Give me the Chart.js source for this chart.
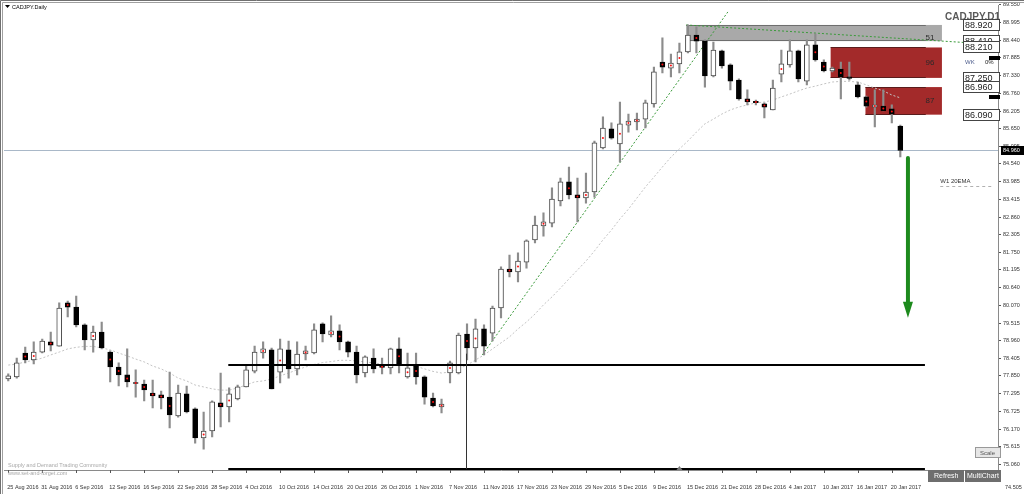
<!DOCTYPE html>
<html>
<head>
<meta charset="utf-8">
<script src="https://cdn.jsdelivr.net/npm/chart.js@4.4.0/dist/chart.umd.min.js"></script>
<style>
  html, body { margin: 0; padding: 0; background: #fff; }
  canvas { display: block; }
</style>
</head>
<body>
<canvas id="chart" width="1024" height="494"></canvas>
<script>
// CADJPY daily candles, 25 Aug 2016 .. 23 Jan 2017
const dates = [
  "25 Aug 2016","26 Aug 2016","29 Aug 2016","30 Aug 2016","31 Aug 2016",
  "1 Sep 2016","2 Sep 2016","5 Sep 2016","6 Sep 2016","7 Sep 2016","8 Sep 2016","9 Sep 2016","12 Sep 2016","13 Sep 2016","14 Sep 2016","15 Sep 2016","16 Sep 2016","19 Sep 2016","20 Sep 2016","21 Sep 2016","22 Sep 2016","23 Sep 2016","26 Sep 2016","27 Sep 2016","28 Sep 2016","29 Sep 2016","30 Sep 2016",
  "3 Oct 2016","4 Oct 2016","5 Oct 2016","6 Oct 2016","7 Oct 2016","10 Oct 2016","11 Oct 2016","12 Oct 2016","13 Oct 2016","14 Oct 2016","17 Oct 2016","18 Oct 2016","19 Oct 2016","20 Oct 2016","21 Oct 2016","24 Oct 2016","25 Oct 2016","26 Oct 2016","27 Oct 2016","28 Oct 2016","31 Oct 2016",
  "1 Nov 2016","2 Nov 2016","3 Nov 2016","4 Nov 2016","7 Nov 2016","8 Nov 2016","9 Nov 2016","10 Nov 2016","11 Nov 2016","14 Nov 2016","15 Nov 2016","16 Nov 2016","17 Nov 2016","18 Nov 2016","21 Nov 2016","22 Nov 2016","23 Nov 2016","24 Nov 2016","25 Nov 2016","28 Nov 2016","29 Nov 2016","30 Nov 2016",
  "1 Dec 2016","2 Dec 2016","5 Dec 2016","6 Dec 2016","7 Dec 2016","8 Dec 2016","9 Dec 2016","12 Dec 2016","13 Dec 2016","14 Dec 2016","15 Dec 2016","16 Dec 2016","19 Dec 2016","20 Dec 2016","21 Dec 2016","22 Dec 2016","23 Dec 2016","27 Dec 2016","28 Dec 2016","29 Dec 2016","30 Dec 2016",
  "3 Jan 2017","4 Jan 2017","5 Jan 2017","6 Jan 2017","9 Jan 2017","10 Jan 2017","11 Jan 2017","12 Jan 2017","13 Jan 2017","16 Jan 2017","17 Jan 2017","18 Jan 2017","19 Jan 2017","20 Jan 2017","23 Jan 2017"
];

const opens = [
  77.75,77.82,78.57,78.35,78.60,78.92,78.79,80.15,80.02,79.46,
  78.98,79.23,78.60,78.13,77.88,77.64,77.59,77.31,77.25,77.18,
  76.59,77.28,76.81,75.89,76.11,77.00,76.87,77.12,77.50,78.00,
  78.57,78.67,77.97,78.67,78.07,78.54,78.57,79.49,79.14,79.27,
  78.92,78.60,77.94,78.41,78.15,78.10,78.70,77.82,78.19,77.82,
  77.15,76.87,77.94,77.94,79.17,78.73,79.33,79.20,79.99,81.22,
  81.13,81.44,82.14,82.58,82.67,83.37,83.97,83.56,83.46,83.65,
  85.04,85.64,85.17,85.76,85.86,85.95,86.43,87.75,87.56,87.69,
  88.07,88.60,88.41,87.31,88.10,87.66,87.18,86.59,86.51,86.43,
  86.24,87.37,87.66,88.10,87.15,88.29,87.75,87.47,87.53,87.28,
  87.03,86.65,86.33,86.36,86.27,85.73
];
const highs = [
  77.91,78.41,78.76,78.92,79.01,79.23,80.15,80.21,80.37,79.49,
  79.42,79.55,78.64,78.26,78.70,78.04,77.72,77.72,77.37,77.97,
  77.56,77.53,76.84,76.71,77.06,77.94,77.47,77.56,78.19,78.79,
  78.92,78.73,79.01,78.95,78.92,78.79,79.49,79.52,79.74,79.46,
  78.95,78.79,78.48,78.70,78.41,78.73,79.05,78.57,78.57,77.85,
  77.31,77.12,78.32,79.20,79.49,79.64,79.46,80.05,81.29,81.66,
  81.73,82.14,82.89,82.99,83.78,84.09,84.44,84.09,84.25,85.26,
  86.02,85.83,86.49,86.11,86.14,86.55,87.59,88.51,88.00,88.35,
  88.92,88.86,88.45,88.38,88.13,87.69,87.22,86.87,86.55,86.46,
  87.18,88.13,88.45,88.13,88.45,88.64,87.82,87.59,87.75,87.75,
  87.12,86.68,86.87,86.87,86.40,85.76
];
const lows = [
  77.69,77.78,78.26,78.23,78.57,78.64,78.79,79.71,79.39,78.67,
  78.60,78.70,77.66,77.53,77.50,77.18,77.06,76.84,76.81,76.21,
  76.55,76.68,75.73,75.54,75.92,76.24,76.40,77.09,77.50,77.94,
  78.41,77.44,77.63,77.78,77.88,78.35,78.54,78.92,79.08,78.67,
  78.45,77.63,77.82,77.94,77.91,77.91,77.94,77.78,77.59,76.96,
  76.87,76.68,77.63,77.91,78.35,78.29,78.51,78.95,79.68,80.97,
  80.81,81.25,82.04,82.26,82.55,83.21,83.43,82.71,83.30,83.49,
  85.01,85.32,84.60,85.54,85.61,85.67,86.33,87.41,87.28,87.41,
  88.04,88.04,86.96,87.28,87.56,86.87,86.55,86.40,86.40,85.99,
  86.24,87.12,87.59,87.12,87.03,87.78,87.44,87.44,86.59,87.18,
  86.62,86.33,85.70,86.21,85.83,84.76
];
const closes = [
  77.85,78.26,78.35,78.60,78.95,78.82,79.99,80.02,79.46,78.98,
  79.23,78.73,78.13,77.88,77.66,77.61,77.41,77.22,77.15,76.62,
  77.31,76.71,75.89,76.11,77.03,76.87,77.28,77.50,78.04,78.60,
  78.70,77.44,78.70,78.07,78.54,78.64,79.30,79.17,79.27,78.92,
  78.60,77.88,78.45,78.07,78.12,78.70,78.23,78.10,77.82,77.18,
  76.90,76.96,78.26,79.14,78.73,79.33,78.79,79.99,81.22,81.13,
  81.47,82.11,82.61,82.71,83.43,83.97,83.56,83.46,83.65,85.20,
  85.67,85.35,85.80,85.89,85.95,86.46,87.44,87.59,87.72,88.07,
  88.60,88.41,87.31,88.13,87.63,87.15,86.59,86.49,86.47,86.33,
  86.93,87.69,88.10,87.22,88.29,87.82,87.47,87.56,87.28,87.23,
  86.65,86.36,86.40,86.21,86.11,84.96
];
// daily moving average (grey dotted curve)
const movingAvg = [
  78.19,78.22,78.29,78.34,78.41,78.51,78.60,78.70,78.75,78.78,
  78.78,78.73,78.67,78.57,78.48,78.38,78.29,78.16,78.07,77.94,
  77.78,77.69,77.56,77.50,77.44,77.40,77.40,77.47,77.56,77.66,
  77.69,77.75,77.85,77.94,78.04,78.13,78.21,78.27,78.30,78.34,
  78.34,78.32,78.29,78.26,78.22,78.19,78.19,78.19,78.15,78.07,
  77.99,77.94,77.97,78.07,78.19,78.35,78.51,78.70,78.89,79.08,
  79.33,79.55,79.80,80.09,80.34,80.62,80.91,81.19,81.47,81.79,
  82.14,82.45,82.80,83.11,83.46,83.81,84.12,84.44,84.75,85.01,
  85.26,85.54,85.80,85.95,86.11,86.24,86.33,86.40,86.46,86.49,
  86.55,86.65,86.74,86.84,86.93,86.99,87.06,87.12,87.14,87.14,
  87.12,87.03,86.93,86.84,86.71,86.62
];
// candles carrying the small red marker
const markedBars = [2,3,5,7,10,12,13,14,15,16,17,18,19,23,25,26,30,32,35,38,39,44,46,47,48,50,51,52,54,55,59,60,63,66,67,68,70,72,73,74,77,78,79,81,87,88,89,91,95,96,98,101,102,103,104];

const priceTicks = [89.550,88.995,88.440,87.885,87.330,86.760,86.205,85.650,85.095,84.540,83.985,83.415,82.860,82.305,81.750,81.195,80.640,80.070,79.515,78.960,78.405,77.850,77.295,76.725,76.170,75.615,75.060,74.505];

// supply zones: top, bottom, first bar, last bar, score
const zoneTop = [88.920, 88.210, 86.960];
const zoneBottom = [88.410, 87.250, 86.090];
const zoneFrom = [79.8, 96.8, 100.9];
const zoneTo = [109.9, 109.9, 109.9];
const zoneScore = ["51", "96", "87"];
const zoneLabels = [88.920, 88.410, 88.210, 87.250, 86.960, 86.090];

// horizontal support lines (price, from bar, to bar)
const supportLevels = [78.19, 74.91];
const supportFrom = 25.9, supportTo = 107.9;
const trendA = [[55.8, 78.51], [84.7, 89.33]];
const trendB = [[79.8, 88.92], [116.5, 88.30]];
const weeklyEma = 83.84;
const arrowFromTo = [105.9, 84.72, 79.68];
const bidPrice = closes[closes.length - 1];
const futureSlots = 11;

const slotLabels = dates.concat(Array(futureSlots).fill(""));
const FONT = "'Liberation Sans', Arial, sans-serif";

const bull = opens.map((o, i) => closes[i] >= o);
const markerData = opens.map((o, i) => markedBars.includes(i) ? (o + closes[i]) / 2 : null);

const overlay = {
  id: "overlay",
  beforeDraw(chart) {
    const c = chart.ctx;
    c.save();
    c.fillStyle = "#fff";
    c.fillRect(0, 0, chart.width, chart.height);
    c.restore();
  },
  beforeDatasetsDraw(chart) {
    const { ctx: c, chartArea: a, scales: { x, y } } = chart;
    c.save();
    c.beginPath();
    c.rect(a.left, a.top - 3, a.right - a.left, a.bottom - a.top + 3);
    c.clip();
    // bid line
    c.strokeStyle = "#a9b8c8";
    c.lineWidth = 1;
    const by = Math.round(y.getPixelForValue(bidPrice)) + 0.5;
    c.beginPath(); c.moveTo(a.left, by); c.lineTo(a.right, by); c.stroke();
    // zones
    zoneTop.forEach((t, k) => {
      const x0 = x.getPixelForValue(zoneFrom[k]);
      const x1 = x.getPixelForValue(zoneTo[k]);
      const y0 = y.getPixelForValue(t);
      const y1 = y.getPixelForValue(zoneBottom[k]);
      c.fillStyle = k === 0 ? "#a9a9a9" : "#a32a2a";
      c.fillRect(x0, y0, x1 - x0, y1 - y0);
      c.strokeStyle = k === 0 ? "#6e6e6e" : "#5a1c1c";
      const xe = x.getPixelForValue(108);
      c.beginPath();
      c.moveTo(x0, Math.round(y0) + 0.5); c.lineTo(xe, Math.round(y0) + 0.5);
      c.moveTo(x0, Math.round(y1) - 0.5); c.lineTo(xe, Math.round(y1) - 0.5);
      c.stroke();
    });
    // trend lines
    c.strokeStyle = "#3a9a3a";
    c.setLineDash([2, 2]);
    [trendA, trendB].forEach(t => {
      c.beginPath();
      c.moveTo(x.getPixelForValue(t[0][0]), y.getPixelForValue(t[0][1]));
      c.lineTo(x.getPixelForValue(t[1][0]), y.getPixelForValue(t[1][1]));
      c.stroke();
    });
    // weekly ema stub
    c.strokeStyle = "#b0b0b0";
    c.setLineDash([3, 3]);
    const wy = Math.round(y.getPixelForValue(weeklyEma)) + 0.5;
    c.beginPath(); c.moveTo(x.getPixelForValue(109.7), wy); c.lineTo(a.right - 4, wy); c.stroke();
    c.restore();
  },
  afterDatasetsDraw(chart) {
    const { ctx: c, chartArea: a, scales: { x, y } } = chart;
    c.save();
    // support lines
    c.strokeStyle = "#000";
    c.lineWidth = 2;
    supportLevels.forEach(p => {
      const py = Math.round(y.getPixelForValue(p));
      c.beginPath();
      c.moveTo(x.getPixelForValue(supportFrom), py);
      c.lineTo(x.getPixelForValue(supportTo), py);
      c.stroke();
    });
    // vertical marker line
    c.lineWidth = 1;
    c.strokeStyle = "#333";
    const vx = Math.round(x.getPixelForValue(54)) - 0.5;
    c.beginPath();
    c.moveTo(vx, y.getPixelForValue(78.55));
    c.lineTo(vx, y.getPixelForValue(supportLevels[1]));
    c.stroke();
    // arrow
    const ax = x.getPixelForValue(arrowFromTo[0]);
    const ay0 = y.getPixelForValue(arrowFromTo[1]);
    const ay1 = y.getPixelForValue(arrowFromTo[2]);
    c.strokeStyle = "#1d8a1d";
    c.fillStyle = "#1d8a1d";
    c.lineWidth = 4;
    c.lineCap = "round";
    c.beginPath(); c.moveTo(ax, ay0); c.lineTo(ax, ay1 - 14); c.stroke();
    c.beginPath();
    c.moveTo(ax - 5, ay1 - 16); c.lineTo(ax + 5, ay1 - 16); c.lineTo(ax, ay1); c.closePath(); c.fill();
    // zone scores
    c.fillStyle = "#2a2a2a";
    c.font = "8px " + FONT;
    c.textAlign = "center";
    c.textBaseline = "middle";
    zoneTop.forEach((t, k) => {
      c.fillText(zoneScore[k], x.getPixelForValue(108.5), y.getPixelForValue(k === 0 ? zoneBottom[k] + 0.09 : (t + zoneBottom[k]) / 2));
    });
    c.font = "6px " + FONT;
    c.textAlign = "left";
    c.fillStyle = "#333";
    c.fillText("W1 20EMA", x.getPixelForValue(109.7), y.getPixelForValue(weeklyEma) - 5);
    c.restore();
  },
  afterDraw(chart) {
    const { ctx: c, chartArea: a, scales: { x, y } } = chart;
    c.save();
    // date tick marks
    c.strokeStyle = "#555";
    c.lineWidth = 1;
    dates.forEach((d, i) => {
      if (i % 4) return;
      const tx = Math.round(x.getPixelForValue(i)) + 0.5;
      c.beginPath(); c.moveTo(tx, a.bottom); c.lineTo(tx, a.bottom + 3); c.stroke();
    });
    // frame
    c.strokeStyle = "#707070";
    c.beginPath(); c.moveTo(0.5, chart.height); c.lineTo(0.5, 0.5); c.lineTo(chart.width, 0.5); c.stroke();
    c.strokeStyle = "#a0a0a0";
    c.beginPath(); c.moveTo(2.5, chart.height); c.lineTo(2.5, 2.5); c.lineTo(chart.width, 2.5); c.stroke();
    // title
    c.fillStyle = "#000";
    c.beginPath(); c.moveTo(5, 5); c.lineTo(10, 5); c.lineTo(7.5, 8); c.closePath(); c.fill();
    c.font = "5.5px " + FONT;
    c.textBaseline = "middle";
    c.fillText("CADJPY.Daily", 12, 7);
    c.font = "bold 10px " + FONT;
    c.textAlign = "right";
    c.fillStyle = "#5a5a5a";
    c.fillText("CADJPY.D1", 1000, 17);
    // lowest price label below the plot
    c.font = "5.5px " + FONT;
    c.textAlign = "left";
    c.fillStyle = "#333";
    c.fillText("74.505", 1005, 487);
    // small coloured markers beside the zone labels
    [[88.95, "#c0392b"], [88.30, "#2a6fc9"], [88.05, "#000"], [87.20, "#a32a2a"], [86.80, "#000"]].forEach(m => {
      c.fillStyle = m[1];
      c.fillRect(989, Math.round(y.getPixelForValue(m[0])) + 3, 11, 4);
    });
    // right side price boxes
    c.font = "9px " + FONT;
    zoneLabels.forEach(p => {
      const py = Math.round(y.getPixelForValue(p));
      c.fillStyle = "#fff";
      c.fillRect(963.5, py - 5.5, 36, 11);
      c.strokeStyle = "#444";
      c.strokeRect(963.5, py - 5.5, 36, 11);
      c.fillStyle = "#222";
      c.fillText(p.toFixed(3), 965, py + 0.5);
    });
    c.font = "6px " + FONT;
    c.fillStyle = "#4a5a8a";
    c.fillText("WK", 965, 62);
    c.fillStyle = "#222";
    c.fillText("0%", 985, 62);
    // bid label
    const by = Math.round(y.getPixelForValue(bidPrice));
    c.fillStyle = "#000";
    c.fillRect(1001, by - 4, 24, 9);
    c.fillStyle = "#fff";
    c.font = "5.5px " + FONT;
    c.fillText(bidPrice.toFixed(3), 1003, by + 0.5);
    // watermark
    c.fillStyle = "#a8a8a8";
    c.fillText("Supply and Demand Trading Community", 8, 465);
    c.fillText("www.set-and-forget.com", 8, 473);
    // buttons
    c.fillStyle = "#e6e6e6";
    c.fillRect(975, 447, 26, 11);
    c.strokeStyle = "#999";
    c.strokeRect(975.5, 447.5, 25, 10);
    c.fillStyle = "#555";
    c.font = "6px " + FONT;
    c.fillText("Scale", 980, 453);
    c.fillStyle = "#6e6e6e";
    c.fillRect(928, 470, 36, 12);
    c.fillRect(965, 470, 36, 12);
    c.fillStyle = "#fff";
    c.font = "7px " + FONT;
    c.fillText("Refresh", 934, 476.5);
    c.fillText("MultiChart", 967, 476.5);
    // shift marker
    c.fillStyle = "#777";
    const mx = x.getPixelForValue(79);
    c.beginPath(); c.moveTo(mx - 3, a.bottom); c.lineTo(mx + 3, a.bottom); c.lineTo(mx, a.bottom - 4); c.closePath(); c.fill();
    c.restore();
  }
};

const ctx = document.getElementById("chart");
const chart = new Chart(ctx, {
  type: "bar",
  data: {
    labels: slotLabels,
    datasets: [
      {
        type: "line",
        data: movingAvg,
        borderColor: "#c4c4c4",
        borderWidth: 1,
        borderDash: [2, 2],
        pointRadius: 0,
        order: 4,
      },
      {
        data: lows.map((l, i) => [l, highs[i]]),
        backgroundColor: "#8c8c8c",
        barThickness: 1.5,
        grouped: false,
        order: 3,
      },
      {
        data: opens.map((o, i) => [o, closes[i]]),
        backgroundColor: bull.map(b => b ? "#ffffff" : "#000000"),
        borderColor: bull.map(b => b ? "#4a4a4a" : "#000000"),
        borderWidth: 1,
        borderSkipped: false,
        barThickness: 5,
        grouped: false,
        order: 2,
      },
      {
        type: "line",
        data: markerData,
        showLine: false,
        pointRadius: 1,
        pointBorderWidth: 0,
        pointBackgroundColor: "#ff1010",
        order: 1,
      },
    ],
  },
  options: {
    responsive: false,
    animation: false,
    layout: { padding: { top: 2, left: 0, right: 0, bottom: 0 } },
    plugins: { legend: { display: false }, tooltip: { enabled: false } },
    scales: {
      x: {
        offset: true,
        grid: {
          offset: false,
          drawOnChartArea: false,
          tickLength: 14,
          color: "rgba(0,0,0,0)",
        },
        border: { color: "#8a8a8a" },
        ticks: {
          autoSkip: false,
          maxRotation: 0,
          minRotation: 0,
          align: "start",
          labelOffset: -1,
          padding: 0,
          color: "#333",
          font: { family: FONT, size: 5.5 },
          callback: (v, i) => (i % 4 === 0 && i < dates.length ? dates[i] : ""),
        },
        afterFit: (s) => { s.height = 24; },
      },
      y: {
        position: "right",
        min: 74.88,
        max: 89.54,
        grid: { drawOnChartArea: false, tickLength: 3, color: "#555" },
        border: { color: "#8a8a8a" },
        ticks: {
          padding: 2,
          color: "#333",
          font: { family: FONT, size: 5.5 },
          callback: (v) => Number(v).toFixed(3),
        },
        afterBuildTicks: (s) => { s.ticks = priceTicks.filter(v => v >= s.min).map(v => ({ value: v })); },
        afterFit: (s) => { s.width = 26; },
      },
    },
  },
  plugins: [overlay],
});
</script>
</body>
</html>
